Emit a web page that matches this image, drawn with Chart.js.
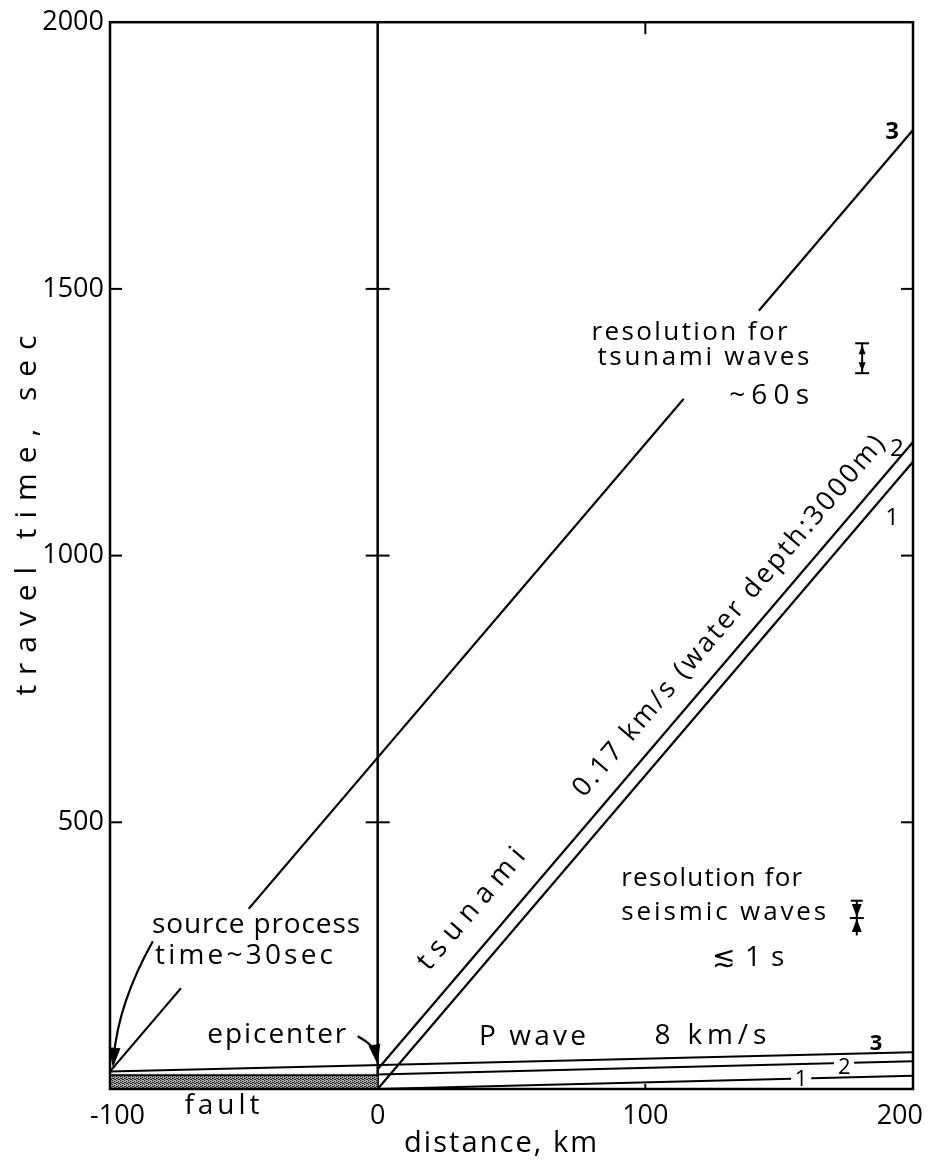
<!DOCTYPE html>
<html>
<head>
<meta charset="utf-8">
<script src="https://cdn.jsdelivr.net/npm/chart.js@4.4.1/dist/chart.umd.min.js"></script>
<style>
  body { margin: 0; background: #fff; }
  #wrap { width: 933px; height: 1162px; }
</style>
</head>
<body>
<div id="wrap"><canvas id="grafica"></canvas></div>
<script>
// distancia (km) y tiempo de viaje (s) de cada recta
const tsunamiKm1 = [0, 200],    tsunamiSec1 = [0, 1176];
const tsunamiKm2 = [0, 200],    tsunamiSec2 = [37, 1213];
const tsunamiKm3 = [-100, 200], tsunamiSec3 = [33, 1798];
const pWaveKm1 = [0, 200],      pWaveSec1 = [0, 25];
const pWaveKm2 = [0, 200],      pWaveSec2 = [27, 52];
const pWaveKm3 = [-100, 200],   pWaveSec3 = [33, 69];
const faultKm = [-100, 0],      faultSec = [26, 26];
const epicenterKm = [0, 0],     epicenterSec = [0, 2000];
// barras de resolucion
const resTsunamiKm = 181, resTsunamiSec = [1342, 1398];
const resSeismicKm = 179, resSeismicSec = [288, 353];
// ejes
const xTicks = [-100, 0, 100, 200];
const yTicks = [500, 1000, 1500, 2000];

const FONT = '"Open Sans", sans-serif';

function puntos(km, sec) {
  return km.map((k, i) => ({ x: k, y: sec[i] }));
}
function linea(km, sec, ancho) {
  return { data: puntos(km, sec), showLine: true, borderColor: '#000', borderWidth: ancho || 2.2, pointRadius: 0, fill: false };
}
function punteado() {
  const c = document.createElement('canvas');
  c.width = 4; c.height = 4;
  const p = c.getContext('2d');
  p.fillStyle = '#a8a8a8'; p.fillRect(0, 0, 4, 4);
  p.fillStyle = '#222';
  [[0, 0], [2, 1], [1, 2], [3, 3], [2, 3], [0, 2]].forEach(([a, b]) => p.fillRect(a, b, 1, 1));
  return p.createPattern(c, 'repeat');
}

function texto(ctx, str, x, y, ancho, alinea, rot, fuente) {
  ctx.save();
  ctx.font = fuente || ('27px ' + FONT);
  ctx.fillStyle = '#000';
  ctx.textBaseline = 'middle';
  ctx.translate(x, y);
  if (rot) ctx.rotate(rot);
  ctx.letterSpacing = '0px';
  const w0 = ctx.measureText(str).width;
  let ls = 0;
  if (ancho) ls = Math.max(-1, (ancho - w0) / Math.max(1, str.length - 1));
  ctx.letterSpacing = ls + 'px';
  const w = w0 + ls * (str.length - 1);
  const x0 = alinea === 'left' ? 0 : alinea === 'right' ? -w : -w / 2;
  ctx.textAlign = 'left';
  ctx.fillText(str, x0, 0);
  ctx.restore();
}

function punta(ctx, x, y, ang, len, half) {
  const c = Math.cos(ang), s = Math.sin(ang);
  ctx.beginPath();
  ctx.moveTo(x, y);
  ctx.lineTo(x - len * c + half * s, y - len * s - half * c);
  ctx.lineTo(x - len * c - half * s, y - len * s + half * c);
  ctx.closePath();
  ctx.fill();
}

function segmento(ctx, x1, y1, x2, y2) {
  ctx.beginPath(); ctx.moveTo(x1, y1); ctx.lineTo(x2, y2); ctx.stroke();
}

const anotaciones = {
  id: 'anotaciones',
  afterDraw(chart) {
    const ctx = chart.ctx, xs = chart.scales.x, ys = chart.scales.y, a = chart.chartArea;
    const P = (km, s) => [xs.getPixelForValue(km), ys.getPixelForValue(s)];
    const secEn = (km, sec, k) => sec[0] + (sec[1] - sec[0]) * (k - km[0]) / (km[1] - km[0]);

    ctx.save();
    // cortes en las rectas donde van los textos
    ctx.strokeStyle = '#fff'; ctx.lineWidth = 7; ctx.lineCap = 'butt';
    const corte = (km, sec, k1, k2) => {
      const [x1, y1] = P(k1, secEn(km, sec, k1)), [x2, y2] = P(k2, secEn(km, sec, k2));
      segmento(ctx, x1, y1, x2, y2);
    };
    corte(tsunamiKm3, tsunamiSec3, -73.5, -48.2);
    corte(tsunamiKm3, tsunamiSec3, 114.3, 142.4);
    ctx.lineWidth = 5;
    corte(pWaveKm2, pWaveSec2, 170.5, 178);
    corte(pWaveKm1, pWaveSec1, 154.5, 162);

    // etiquetas del eje x (las de los extremos quedan dentro del lienzo)
    ctx.font = '27px ' + FONT;
    xTicks.forEach(v => {
      const w = ctx.measureText(String(v)).width;
      let cx = xs.getPixelForValue(v);
      cx = Math.min(Math.max(cx, 90 + w / 2), chart.width - 10 - w / 2);
      texto(ctx, String(v), cx, a.bottom + 27, 0, 'center', 0, '27px ' + FONT);
    });

    // textos
    texto(ctx, '3', ...P(192.2, 1793), 0, 'center', 0, 'bold 24px ' + FONT);
    texto(ctx, '2', ...P(194, 1199), 0, 'center', 0, '24px ' + FONT);
    texto(ctx, '1', ...P(192.2, 1070), 0, 'center', 0, '24px ' + FONT);
    texto(ctx, 'resolution for', ...P(79.9, 1418), 196, 'left', 0, '26px ' + FONT);
    texto(ctx, 'tsunami waves', ...P(82.1, 1372), 212, 'left', 0, '26px ' + FONT);
    texto(ctx, '~60s', ...P(161.2, 1300), 80, 'right', 0, '28px ' + FONT);

    const [lx1, ly1] = P(tsunamiKm2[0], tsunamiSec2[0]), [lx2, ly2] = P(tsunamiKm2[1], tsunamiSec2[1]);
    const ang = Math.atan2(ly2 - ly1, lx2 - lx1);
    texto(ctx, '0.17 km/s (water depth:3000m)', ...P(131.3, 886), 465, 'center', ang, '27px ' + FONT);
    texto(ctx, 'tsunami', ...P(35.1, 337), 151, 'center', ang, '28px ' + FONT);

    texto(ctx, 'source process', ...P(-84.3, 307), 208, 'left', 0, '28px ' + FONT);
    texto(ctx, 'time~30sec', ...P(-83.2, 250), 178, 'left', 0, '28px ' + FONT);
    texto(ctx, 'epicenter', ...P(-37.7, 101), 139, 'center', 0, '28px ' + FONT);
    texto(ctx, 'fault', ...P(-58.2, -32), 75, 'center', 0, '28px ' + FONT);
    texto(ctx, 'P wave', ...P(57.8, 97), 107, 'center', 0, '28px ' + FONT);
    texto(ctx, '8 km/s', ...P(124.3, 100), 112, 'center', 0, '28px ' + FONT);
    texto(ctx, '3', ...P(186.2, 84), 0, 'center', 0, 'bold 22px ' + FONT);
    texto(ctx, '2', ...P(174.3, 39), 0, 'center', 0, '22px ' + FONT);
    texto(ctx, '1', ...P(158.2, 17), 0, 'center', 0, '22px ' + FONT);
    texto(ctx, 'resolution for', ...P(91, 394), 181, 'left', 0, '26px ' + FONT);
    texto(ctx, 'seismic waves', ...P(91, 330), 205, 'left', 0, '26px ' + FONT);
    texto(ctx, '\u2272 1 s', ...P(125, 245), 72, 'left', 0, '28px ' + FONT);

    // titulos de ejes
    texto(ctx, 'distance, km', xs.getPixelForValue(45.9), 1144, 193, 'center', 0, '29px ' + FONT);
    texto(ctx, 'travel time, sec', 27, ys.getPixelForValue(1075), 360, 'center', -Math.PI / 2, '30px ' + FONT);

    // flechas curvas
    ctx.strokeStyle = '#000'; ctx.fillStyle = '#000'; ctx.lineWidth = 2.2;
    const flecha = (s, c, e) => {
      const [sx, sy] = P(...s), [cx, cy] = P(...c), [ex, ey] = P(...e);
      const an = Math.atan2(ey - cy, ex - cx);
      ctx.beginPath(); ctx.moveTo(sx, sy);
      ctx.quadraticCurveTo(cx, cy, ex - 10 * Math.cos(an), ey - 10 * Math.sin(an));
      ctx.stroke();
      punta(ctx, ex, ey, an, 20, 6);
    };
    flecha([-84, 277], [-97, 160], [-98.9, 40]);
    flecha([-7.5, 99], [-1.2, 82], [0, 46]);

    // barras de resolucion
    ctx.lineWidth = 2;
    const [tx, tTop] = P(resTsunamiKm, resTsunamiSec[1]), [, tBot] = P(resTsunamiKm, resTsunamiSec[0]);
    segmento(ctx, tx, tTop, tx, tBot);
    segmento(ctx, tx - 7, tTop, tx + 7, tTop);
    segmento(ctx, tx - 7, tBot, tx + 7, tBot);
    punta(ctx, tx, tTop + 2, -Math.PI / 2, 9, 3.5);
    punta(ctx, tx, tBot - 2, Math.PI / 2, 9, 3.5);

    const [sx, sTop] = P(resSeismicKm, resSeismicSec[1]), [, sBot] = P(resSeismicKm, resSeismicSec[0]);
    const sMid = (sTop + sBot) / 2;
    segmento(ctx, sx, sTop, sx, sBot);
    segmento(ctx, sx - 6, sTop, sx + 6, sTop);
    segmento(ctx, sx - 7, sMid, sx + 7, sMid);
    punta(ctx, sx, sMid - 1, Math.PI / 2, 13, 5);
    punta(ctx, sx, sMid + 1, -Math.PI / 2, 13, 5);

    // marcas de los ejes
    ctx.lineWidth = 2;
    const x0 = xs.getPixelForValue(0);
    yTicks.filter(v => v < 2000).forEach(v => {
      const y = ys.getPixelForValue(v);
      segmento(ctx, a.left, y, a.left + 12, y);
      segmento(ctx, a.right - 12, y, a.right, y);
      segmento(ctx, x0 - 12, y, x0 + 12, y);
    });
    const x100 = xs.getPixelForValue(100);
    segmento(ctx, x100, a.top, x100, a.top + 12);
    segmento(ctx, x100, a.bottom - 5, x100, a.bottom);

    // marco
    ctx.lineWidth = 2.5;
    ctx.strokeRect(a.left, a.top, a.right - a.left, a.bottom - a.top);
    ctx.restore();
  }
};

const ctx = document.getElementById('grafica');
new Chart(ctx, {
  type: 'scatter',
  data: {
    datasets: [
      { data: puntos(faultKm, faultSec), showLine: true, borderColor: '#000', borderWidth: 2, pointRadius: 0, fill: 'origin', backgroundColor: punteado() },
      linea(epicenterKm, epicenterSec, 2.5),
      linea(tsunamiKm1, tsunamiSec1),
      linea(tsunamiKm2, tsunamiSec2),
      linea(tsunamiKm3, tsunamiSec3),
      linea(pWaveKm1, pWaveSec1, 2),
      linea(pWaveKm2, pWaveSec2, 2),
      linea(pWaveKm3, pWaveSec3, 2)
    ]
  },
  options: {
    responsive: true,
    maintainAspectRatio: false,
    animation: false,
    layout: { padding: { top: 14 } },
    plugins: {
      legend: { display: false },
      tooltip: { enabled: false }
    },
    scales: {
      x: {
        type: 'linear',
        min: -100,
        max: 200,
        grid: { display: false, drawTicks: false },
        border: { display: false },
        afterBuildTicks: s => { s.ticks = xTicks.map(v => ({ value: v })); },
        afterFit: s => { s.height = 73; s.paddingRight = 20; },
        ticks: { display: false }
      },
      y: {
        type: 'linear',
        min: 0,
        max: 2000,
        grid: { display: false, drawTicks: false },
        border: { display: false },
        afterBuildTicks: s => { s.ticks = yTicks.map(v => ({ value: v })); },
        afterFit: s => { s.width = 110; },
        ticks: {
          color: '#000',
          padding: 6,
          callback: v => String(v),
          font: { family: FONT, size: 27 }
        }
      }
    }
  },
  plugins: [anotaciones]
});
</script>
</body>
</html>
